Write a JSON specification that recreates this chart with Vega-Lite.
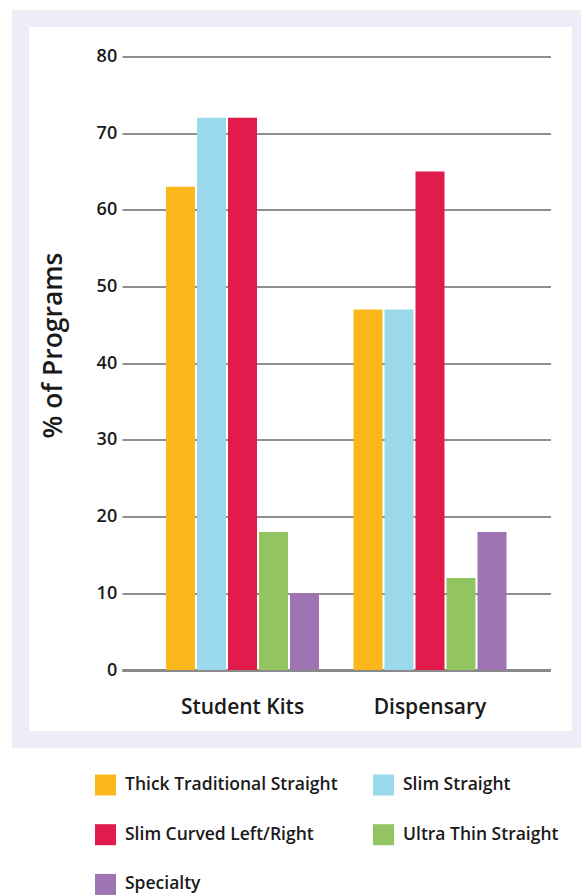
{
  "$schema": "https://vega.github.io/schema/vega-lite/v6.json",
  "autosize": {"type": "none"},
  "padding": {"left": 20.5, "top": 18.5, "right": 0.5, "bottom": 155.5},
  "width": 560,
  "height": 721,
  "background": "white",
  "data": {
    "values": [
      {"setting": "Student Kits", "type": "Thick Traditional Straight", "pct": 63},
      {"setting": "Student Kits", "type": "Slim Straight", "pct": 72},
      {"setting": "Student Kits", "type": "Slim Curved Left/Right", "pct": 72},
      {"setting": "Student Kits", "type": "Ultra Thin Straight", "pct": 18},
      {"setting": "Student Kits", "type": "Specialty", "pct": 10},
      {"setting": "Dispensary", "type": "Thick Traditional Straight", "pct": 47},
      {"setting": "Dispensary", "type": "Slim Straight", "pct": 47},
      {"setting": "Dispensary", "type": "Slim Curved Left/Right", "pct": 65},
      {"setting": "Dispensary", "type": "Ultra Thin Straight", "pct": 12},
      {"setting": "Dispensary", "type": "Specialty", "pct": 18}
    ]
  },
  "mark": {"type": "bar", "strokeWidth": 0},
  "encoding": {
    "x": {
      "field": "setting",
      "type": "nominal",
      "sort": ["Student Kits", "Dispensary"],
      "scale": {"range": [101.5, 530], "paddingInner": 0.184, "paddingOuter": 0.2347},
      "axis": {
        "title": null,
        "orient": "bottom",
        "offset": -69.5,
        "domain": true,
        "domainColor": "#8a8a8a",
        "domainWidth": 3,
        "ticks": false,
        "tickSize": 0,
        "grid": false,
        "labelAngle": 0,
        "labelBaseline": "alphabetic",
        "labelPadding": 43,
        "labelFontSize": 21,
        "labelFontWeight": 600,
        "labelColor": "#1a1a1a",
        "labelFont": "Open Sans"
      }
    },
    "xOffset": {
      "field": "type",
      "type": "nominal",
      "sort": ["Thick Traditional Straight", "Slim Straight", "Slim Curved Left/Right", "Ultra Thin Straight", "Specialty"],
      "scale": {"paddingInner": 0.0645, "paddingOuter": 0}
    },
    "y": {
      "field": "pct",
      "type": "quantitative",
      "scale": {"domain": [0, 80], "range": [651.5, 38], "nice": false, "zero": true},
      "axis": {
        "title": "% of Programs",
        "values": [0, 10, 20, 30, 40, 50, 60, 70, 80],
        "offset": -101.2,
        "domain": false,
        "ticks": false,
        "tickSize": 0,
        "grid": true,
        "gridColor": "#8f8f8f",
        "gridWidth": 2,
        "labelPadding": 5,
        "labelFontSize": 18,
        "labelFontWeight": 600,
        "labelColor": "#1a1a1a",
        "labelFont": "Open Sans",
        "titleFont": "Open Sans",
        "titleFontSize": 26.5,
        "titleFontWeight": 600,
        "titleColor": "#1a1a1a",
        "titleAngle": -90,
        "titleAlign": "center",
        "titleBaseline": "alphabetic",
        "titleX": -60,
        "titleY": 326.5
      }
    },
    "color": {
      "field": "type",
      "type": "nominal",
      "sort": ["Thick Traditional Straight", "Slim Straight", "Slim Curved Left/Right", "Ultra Thin Straight", "Specialty"],
      "scale": {
        "domain": ["Thick Traditional Straight", "Slim Straight", "Slim Curved Left/Right", "Ultra Thin Straight", "Specialty"],
        "range": ["#FCB71C", "#9AD9EC", "#E21B4D", "#92C462", "#9E75B2"]
      },
      "legend": {
        "title": null,
        "orient": "none",
        "legendX": 74.5,
        "legendY": 756,
        "direction": "horizontal",
        "columns": 2,
        "gridAlign": "none",
        "columnPadding": 35,
        "rowPadding": 28.7,
        "padding": 0,
        "symbolType": "square",
        "symbolSize": 441,
        "symbolStrokeWidth": 0,
        "symbolOpacity": 1,
        "labelOffset": 9,
        "labelFontSize": 17.5,
        "labelFontWeight": 600,
        "labelFont": "Open Sans",
        "labelColor": "#1a1a1a",
        "labelLimit": 400
      }
    }
  },
  "config": {
    "view": {"stroke": "#EEEDF7", "strokeWidth": 17, "fill": "white"},
    "font": "Open Sans"
  }
}
